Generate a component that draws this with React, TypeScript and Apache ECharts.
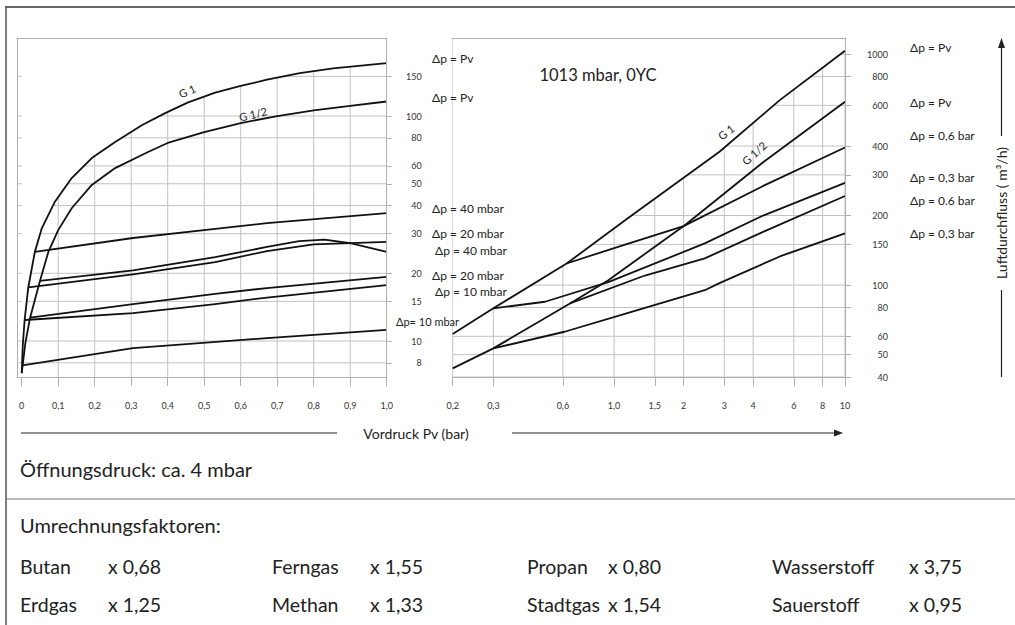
import { useEffect, useRef } from 'react';
import * as echarts from 'echarts';

// ---- axis ticks ----
const leftXTicks = [0, 0.1, 0.2, 0.3, 0.4, 0.5, 0.6, 0.7, 0.8, 0.9, 1.0];
const leftYTicks = [8, 10, 15, 20, 30, 40, 50, 60, 80, 100, 150];
const rightXTicks = [0.2, 0.3, 0.6, 1, 1.5, 2, 3, 4, 6, 8, 10];
const rightYTicks = [40, 50, 60, 80, 100, 150, 200, 300, 400, 600, 800, 1000];

// ---- left panel: Vordruck 0..1 bar (linear), Luftdurchfluss m³/h (log) ----
const leftG1 = [[0, 7.2], [0.003, 9.6], [0.008, 12.4], [0.018, 17.3], [0.036, 24.9], [0.055, 31.7], [0.091, 41.6], [0.137, 53], [0.192, 65], [0.256, 76.6], [0.329, 91], [0.393, 103], [0.456, 115], [0.53, 127], [0.6, 136], [0.672, 145], [0.762, 155], [0.853, 163], [1.0, 172]];
const leftG12 = [[0, 7.2], [0.01, 9.8], [0.023, 12.7], [0.05, 18.5], [0.073, 24.9], [0.1, 31.1], [0.137, 38.9], [0.192, 49.4], [0.256, 58.7], [0.346, 69.2], [0.4, 75.9], [0.5, 84.9], [0.6, 93], [0.7, 100], [0.8, 106], [0.9, 111], [1.0, 116]];
const leftG1dp40 = [[0.036, 24.9], [0.305, 28.7], [0.53, 31.5], [0.672, 33.4], [1.0, 37]];
const leftG1dp20 = [[0.018, 17.3], [0.305, 19.8], [0.53, 22.4], [0.672, 25.1], [0.8, 26.9], [1.0, 27.6]];
const leftG12dp40 = [[0.05, 18.5], [0.305, 20.6], [0.53, 23.6], [0.672, 26.2], [0.76, 27.8], [0.83, 28.2], [0.9, 27.2], [1.0, 24.9]];
const leftG12dp20 = [[0.023, 12.7], [0.305, 14.6], [0.53, 16.2], [0.672, 17.2], [1.0, 19.3]];
const leftG1dp10 = [[0.008, 12.4], [0.305, 13.3], [0.53, 14.6], [0.672, 15.6], [1.0, 17.7]];
const leftG12dp10 = [[0.002, 7.8], [0.305, 9.3], [0.672, 10.3], [1.0, 11.2]];

// ---- right panel: Vordruck 0,2..10 bar (log), Luftdurchfluss m³/h (log) ----
const rightG1 = [[0.2, 61.4], [0.3, 79.3], [0.623, 124], [1.17, 197.6], [2.86, 377.6], [5.22, 632], [10, 1033]];
const rightG12 = [[0.2, 43.6], [0.3, 53.2], [0.644, 83.3], [0.944, 105], [2.03, 182], [4.42, 340], [10, 622]];
const rightG1dp06 = [[0.623, 124], [1.04, 146.5], [2.0, 180], [4.4, 268], [10, 394]];
const rightG1dp03 = [[0.3, 79.3], [0.502, 84.7], [0.944, 103], [2.47, 151.5], [4.42, 200], [10, 277]];
const rightG12dp06 = [[0.644, 83.3], [1.36, 110], [2.47, 130.5], [4.42, 170], [10, 243]];
const rightG12dp03 = [[0.3, 53.2], [0.61, 62.8], [1.17, 76.2], [2.47, 95], [2.86, 102], [5.22, 133], [10, 167.5]];

// ---- texts ----
const leftDpLabels = ['Δp = Pv', 'Δp = Pv', 'Δp = 40 mbar', 'Δp = 20 mbar', 'Δp = 40 mbar', 'Δp = 20 mbar', 'Δp = 10 mbar', 'Δp= 10 mbar'];
const rightDpLabels = ['Δp = Pv', 'Δp = Pv', 'Δp = 0,6 bar', 'Δp = 0,3 bar', 'Δp = 0.6 bar', 'Δp = 0,3 bar'];
const gasNames = ['Butan', 'Ferngas', 'Propan', 'Wasserstoff', 'Erdgas', 'Methan', 'Stadtgas', 'Sauerstoff'];
const gasFactors = ['x 0,68', 'x 1,55', 'x 0,80', 'x 3,75', 'x 1,25', 'x 1,33', 'x 1,54', 'x 0,95'];
const titleText = '1013 mbar, 0YC';
const xTitle = 'Vordruck Pv (bar)';
const yTitle = 'Luftdurchfluss ( m³/h)';
const openText = 'Öffnungsdruck: ca. 4 mbar';
const factorTitle = 'Umrechnungsfaktoren:';

const FONT = 'Lato, "Open Sans", sans-serif';
const GRID = '#c2c2c2';
const AXIS = '#b0b0b0';
const INK = '#111';
const TXT = '#222';

const LEFT_X = [-0.0129, 1];
const LEFT_Y = [6.92, 222.2];
const RIGHT_X = [0.2, 10];
const RIGHT_Y = [40, 1174];

function commaFmt(v: number) {
  if (v === 0) return '0';
  if (v >= 2) return String(v);
  return v.toFixed(1).replace('.', ',');
}

function txt(text: string, x: number, y: number, size: number, align = 'left', extra: any = {}) {
  return {
    type: 'text',
    z: 100,
    x,
    y,
    rotation: extra.rotation || 0,
    silent: true,
    style: {
      text,
      x: 0,
      y: 0,
      fill: extra.fill || TXT,
      fontSize: size,
      fontFamily: FONT,
      align,
      textAlign: align,
      verticalAlign: 'middle',
      textVerticalAlign: 'middle',
    },
  };
}

function ln(x1: number, y1: number, x2: number, y2: number, stroke: string, w: number) {
  return { type: 'line', z: 100, silent: true, shape: { x1, y1, x2, y2 }, style: { stroke, lineWidth: w } };
}

export default function App() {
  const ref = useRef<HTMLDivElement>(null);

  useEffect(() => {
    const chart = echarts.init(ref.current as HTMLDivElement, null, { renderer: 'svg' });

    const mk = (name: string, data: number[][], idx: number) => ({
      type: 'line',
      name,
      data,
      xAxisIndex: idx,
      yAxisIndex: idx,
      showSymbol: false,
      symbol: 'none',
      smooth: false,
      silent: true,
      z: 3,
      lineStyle: { color: INK, width: 1.8, join: 'round' },
    });

    // grid lines at the tick values (drawn through the axes' scales)
    const gridLines = (idx: number, xr: number[], yr: number[], xt: number[], yt: number[]) => ({
      type: 'custom',
      xAxisIndex: idx,
      yAxisIndex: idx,
      z: 1,
      silent: true,
      clip: true,
      data: [[xr[0], yr[0]]],
      renderItem: (params: any, api: any) => {
        const children: any[] = [];
        xt.forEach((v) => {
          const a = api.coord([v, yr[0]]);
          const b = api.coord([v, yr[1]]);
          children.push({ type: 'line', shape: { x1: a[0], y1: a[1], x2: b[0], y2: b[1] }, style: { stroke: GRID, lineWidth: 1 } });
        });
        yt.forEach((v) => {
          const a = api.coord([xr[0], v]);
          const b = api.coord([xr[1], v]);
          children.push({ type: 'line', shape: { x1: a[0], y1: a[1], x2: b[0], y2: b[1] }, style: { stroke: GRID, lineWidth: 1 } });
        });
        return { type: 'group', children };
      },
    });

    // white mask above the G 1 curve (the original shows its grid only below it)
    const mask = (idx: number, top: number[][], yMax: number) => ({
      type: 'line',
      xAxisIndex: idx,
      yAxisIndex: idx,
      z: 2,
      silent: true,
      showSymbol: false,
      symbol: 'none',
      data: top,
      lineStyle: { width: 0, opacity: 0 },
      areaStyle: { color: '#ffffff', opacity: 1, origin: yMax },
    });

    const borderX = (gridIndex: number) => ({
      type: 'value', gridIndex, position: 'top', min: 0, max: 1, z: 5,
      axisLine: { show: true, onZero: false, lineStyle: { color: AXIS, width: 1 } },
      axisTick: { show: false }, axisLabel: { show: false }, splitLine: { show: false },
    });
    const borderY = (gridIndex: number, position: string) => ({
      type: 'value', gridIndex, position, min: 0, max: 1, z: 5,
      axisLine: { show: true, onZero: false, lineStyle: { color: AXIS, width: 1 } },
      axisTick: { show: false }, axisLabel: { show: false }, splitLine: { show: false },
    });

    const labelStyle = { fontSize: 9, fontFamily: FONT, color: '#333' };

    const graphics: any[] = [];
    graphics.push(ln(5, 7, 1015, 7, '#333', 1.5));
    graphics.push(ln(6, 7, 6, 625, '#555', 1.5));
    graphics.push(ln(6, 499, 1015, 499, '#777', 1));
    graphics.push(ln(21, 433, 337, 433, TXT, 1.2));
    graphics.push(txt(xTitle, 416, 433, 14, 'center'));
    graphics.push(ln(512, 433, 836, 433, TXT, 1.2));
    graphics.push({ type: 'polygon', z: 100, silent: true, shape: { points: [[834, 429.5], [843, 433], [834, 436.5]] }, style: { fill: TXT } });
    graphics.push(ln(1001.5, 377, 1001.5, 290, TXT, 1.2));
    graphics.push(ln(1001.5, 136, 1001.5, 46, TXT, 1.2));
    graphics.push({ type: 'polygon', z: 100, silent: true, shape: { points: [[998, 48], [1005, 48], [1001.5, 38]] }, style: { fill: TXT } });
    graphics.push(txt(yTitle, 1001.5, 213, 14, 'center', { rotation: Math.PI / 2 }));
    graphics.push(txt(titleText, 598, 75, 16.5, 'center'));
    graphics.push(txt('G 1', 187, 91, 11, 'center', { rotation: 24 * Math.PI / 180 }));
    graphics.push(txt('G 1/2', 253, 114, 11, 'center', { rotation: 14 * Math.PI / 180 }));
    graphics.push(txt('G 1', 726, 132, 11, 'center', { rotation: 38 * Math.PI / 180 }));
    graphics.push(txt('G 1/2', 754, 153, 11, 'center', { rotation: 42 * Math.PI / 180 }));
    const lPos = [[432, 58], [432, 97], [432, 208], [432, 233], [435, 250], [432, 275], [435, 291.5], [396, 321]];
    leftDpLabels.forEach((t, i) => graphics.push(txt(t, lPos[i][0], lPos[i][1], i === 7 ? 11 : 12, 'left')));
    const rPos = [47, 102, 135, 177, 200, 233];
    rightDpLabels.forEach((t, i) => graphics.push(txt(t, 910, rPos[i], 12, 'left')));
    graphics.push(txt(openText, 20, 469, 20, 'left'));
    graphics.push(txt(factorTitle, 20, 525, 20, 'left'));
    const nameX = [20, 272, 527, 772];
    const factX = [108, 370, 608, 962];
    const rowY = [566, 604];
    gasNames.forEach((n, i) => {
      const c = i % 4;
      const r = Math.floor(i / 4);
      graphics.push(txt(n, nameX[c], rowY[r], 19.5, 'left'));
      graphics.push(txt(gasFactors[i], factX[c], rowY[r], 19.5, c === 3 ? 'right' : 'left'));
    });

    chart.setOption({
      animation: false,
      backgroundColor: '#ffffff',
      grid: [
        { left: 17, width: 369.7, top: 38, height: 339 },
        { left: 452.7, width: 392.3, top: 38, height: 339 },
      ],
      xAxis: [
        {
          type: 'value', gridIndex: 0, position: 'bottom', min: LEFT_X[0], max: LEFT_X[1],
          axisLine: { show: true, onZero: false, lineStyle: { color: AXIS } },
          axisTick: { show: true, customValues: leftXTicks, length: 9, lineStyle: { color: AXIS } },
          axisLabel: { customValues: leftXTicks, formatter: (v: number) => commaFmt(v), margin: 24, ...labelStyle },
          splitLine: { show: false },
        },
        {
          type: 'log', logBase: 10, gridIndex: 1, position: 'bottom', min: RIGHT_X[0], max: RIGHT_X[1],
          axisLine: { show: true, onZero: false, lineStyle: { color: AXIS } },
          axisTick: { show: true, customValues: rightXTicks, length: 9, lineStyle: { color: AXIS } },
          axisLabel: { customValues: rightXTicks, formatter: (v: number) => commaFmt(v), margin: 24, ...labelStyle },
          splitLine: { show: false },
        },
        borderX(0),
        borderX(1),
      ],
      yAxis: [
        {
          type: 'log', logBase: 10, gridIndex: 0, position: 'right', min: LEFT_Y[0], max: LEFT_Y[1],
          axisLine: { show: false, onZero: false },
          axisTick: { show: true, customValues: leftYTicks, length: 5, lineStyle: { color: AXIS } },
          axisLabel: { customValues: leftYTicks, formatter: (v: number) => String(v), margin: 35, align: 'right', ...labelStyle },
          splitLine: { show: false },
        },
        {
          type: 'log', logBase: 10, gridIndex: 1, position: 'right', min: RIGHT_Y[0], max: RIGHT_Y[1],
          axisLine: { show: false, onZero: false },
          axisTick: { show: true, customValues: rightYTicks, length: 6, lineStyle: { color: AXIS } },
          axisLabel: { customValues: rightYTicks, formatter: (v: number) => String(v), margin: 43, align: 'right', ...labelStyle },
          splitLine: { show: false },
        },
        borderY(0, 'left'),
        borderY(0, 'right'),
        borderY(1, 'right'),
      ],
      series: [
        gridLines(0, LEFT_X, LEFT_Y, leftXTicks.slice(1), leftYTicks),
        gridLines(1, RIGHT_X, RIGHT_Y, rightXTicks, rightYTicks),
        mask(0, leftG1, LEFT_Y[1]),
        mask(1, rightG1, RIGHT_Y[1]),
        mk('G 1', leftG1, 0),
        mk('G 1/2', leftG12, 0),
        mk('G 1 Δp 40 mbar', leftG1dp40, 0),
        mk('G 1 Δp 20 mbar', leftG1dp20, 0),
        mk('G 1/2 Δp 40 mbar', leftG12dp40, 0),
        mk('G 1/2 Δp 20 mbar', leftG12dp20, 0),
        mk('G 1 Δp 10 mbar', leftG1dp10, 0),
        mk('G 1/2 Δp 10 mbar', leftG12dp10, 0),
        mk('G 1 (hoch)', rightG1, 1),
        mk('G 1/2 (hoch)', rightG12, 1),
        mk('G 1 Δp 0,6 bar', rightG1dp06, 1),
        mk('G 1 Δp 0,3 bar', rightG1dp03, 1),
        mk('G 1/2 Δp 0,6 bar', rightG12dp06, 1),
        mk('G 1/2 Δp 0,3 bar', rightG12dp03, 1),
      ],
      graphic: graphics,
    });

    return () => chart.dispose();
  }, []);

  return (
    <div
      ref={ref}
      style={{ position: 'fixed', left: 0, top: 0, width: 1015, height: 625, background: '#ffffff' }}
    />
  );
}
